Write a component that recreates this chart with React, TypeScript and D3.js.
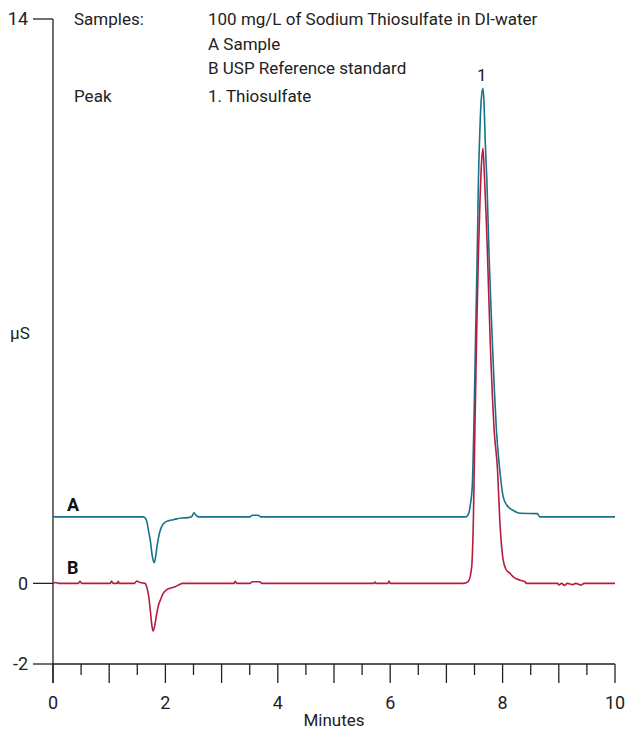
import React from "react";
import * as d3 from "d3";

// chromatogram traces, [minutes, µS]
const traceA: [number, number][] = [
  [0, 1.65], [1.6, 1.65], [1.64, 1.62], [1.67, 1.53], [1.7, 1.3], [1.73, 1.07],
  [1.77, 0.65], [1.8, 0.51], [1.83, 0.7], [1.85, 0.91], [1.9, 1.28], [1.95, 1.45],
  [1.99, 1.51], [2.05, 1.55], [2.11, 1.57], [2.2, 1.6], [2.3, 1.62], [2.4, 1.63],
  [2.47, 1.66], [2.51, 1.75], [2.55, 1.68], [2.59, 1.65], [3.5, 1.65], [3.55, 1.69],
  [3.65, 1.69], [3.7, 1.65], [7.35, 1.65], [7.4, 1.75], [7.42, 1.9], [7.46, 2.4],
  [7.49, 4.0], [7.52, 6.2], [7.55, 8.3], [7.57, 10.0], [7.59, 11.0], [7.62, 12.0],
  [7.65, 12.28], [7.67, 11.9], [7.69, 11.0], [7.72, 10.0], [7.76, 8.1], [7.8, 6.6],
  [7.85, 4.9], [7.89, 3.8], [7.95, 2.81], [8.01, 2.15], [8.07, 1.95], [8.13, 1.86],
  [8.2, 1.8], [8.31, 1.74], [8.62, 1.73], [8.66, 1.65], [10, 1.65],
];

const traceB: [number, number][] = [
  [0, 0], [0.05, 0.02], [0.1, 0], [0.45, 0], [0.48, 0.05], [0.51, 0], [1.02, 0],
  [1.04, 0.06], [1.07, 0], [1.14, 0], [1.16, 0.05], [1.18, 0], [1.45, 0], [1.49, 0.06],
  [1.55, 0.02], [1.64, 0], [1.67, -0.1], [1.7, -0.3], [1.73, -0.65], [1.76, -1.05],
  [1.78, -1.18], [1.81, -1.05], [1.84, -0.8], [1.87, -0.58], [1.92, -0.38], [1.96, -0.25],
  [2.02, -0.16], [2.08, -0.12], [2.18, -0.08], [2.26, -0.02], [2.3, 0], [3.22, 0],
  [3.24, 0.05], [3.27, 0], [3.5, 0], [3.55, 0.04], [3.68, 0.04], [3.71, 0], [5.71, 0],
  [5.73, 0.03], [5.75, 0], [5.96, 0], [5.98, 0.06], [6.0, 0], [7.3, 0], [7.39, 0.05],
  [7.45, 0.41], [7.48, 1.57], [7.51, 4.05], [7.54, 6.3], [7.57, 8.2], [7.6, 9.6],
  [7.62, 10.3], [7.65, 10.79], [7.68, 10.0], [7.71, 9.0], [7.73, 8.2], [7.78, 6.0],
  [7.85, 3.8], [7.91, 2.81], [7.95, 1.57], [8.01, 0.58], [8.06, 0.35], [8.13, 0.25],
  [8.2, 0.15], [8.31, 0.08], [8.4, 0.04], [8.42, 0], [8.98, 0], [9.0, -0.04], [9.05, 0],
  [9.1, -0.05], [9.15, 0], [9.25, -0.03], [9.3, 0], [9.4, -0.04], [9.45, 0], [10, 0],
];

const xTicks = [0, 2, 4, 6, 8, 10];
const yTicks = [14, 0, -2];
const infoRows = [
  { label: "Samples:", text: "100 mg/L of Sodium Thiosulfate in DI-water" },
  { label: "", text: "A Sample" },
  { label: "", text: "B USP Reference standard" },
  { label: "Peak", text: "1. Thiosulfate" },
];

const colorA = "#17728a";
const colorB = "#b71c3d";
const font = "'Liberation Sans Narrow', 'Roboto', sans-serif";

export default function App() {
  const width = 625;
  const height = 731;
  const x = d3.scaleLinear().domain([0, 10]).range([53, 615]);
  const y = d3.scaleLinear().domain([-2, 14]).range([664, 19]);
  const line = d3
    .line<[number, number]>()
    .x((d) => x(d[0]))
    .y((d) => y(d[1]))
    .curve(d3.curveMonotoneX);

  const halfTicks = d3.range(0, 10.01, 0.5);
  const rowY = [19, 44, 68, 96];

  return (
    <svg
      width={width}
      height={height}
      style={{ position: "absolute", left: 0, top: 0, background: "#fff" }}
      fontFamily={font}
    >
      {/* info block */}
      {infoRows.map((r, i) => (
        <g key={i} fontSize={17} fill="#222">
          {r.label && (
            <text x={74} y={rowY[i]} dy="0.35em">
              {r.label}
            </text>
          )}
          <text x={208} y={rowY[i]} dy="0.35em">
            {r.text}
          </text>
        </g>
      ))}

      {/* axes */}
      <g stroke="#222" strokeWidth={1.3} fill="none">
        <line x1={x(0)} x2={x(0)} y1={y(14)} y2={683} />
        <line x1={x(0)} x2={x(10)} y1={y(-2)} y2={y(-2)} />
        {yTicks.map((t) => (
          <line key={t} x1={x(0) - 20} x2={x(0)} y1={y(t)} y2={y(t)} />
        ))}
        {halfTicks.map((t) => (
          <line
            key={t}
            x1={x(t)}
            x2={x(t)}
            y1={y(-2)}
            y2={y(-2) + (Number.isInteger(t) ? 19 : 11)}
          />
        ))}
      </g>
      {yTicks.map((t) => (
        <text key={t} x={28} y={y(t)} dy="0.35em" textAnchor="end" fontSize={18} fill="#222">
          {t}
        </text>
      ))}
      {xTicks.map((t) => (
        <text key={t} x={x(t)} y={703} dy="0.35em" textAnchor="middle" fontSize={18} fill="#222">
          {t}
        </text>
      ))}
      <text x={334} y={720} dy="0.35em" textAnchor="middle" fontSize={17} fill="#222">
        Minutes
      </text>
      <text x={10} y={333} dy="0.35em" fontSize={17} fill="#222">
        µS
      </text>

      {/* traces */}
      <path d={line(traceA) || ""} fill="none" stroke={colorA} strokeWidth={1.6} />
      <path d={line(traceB) || ""} fill="none" stroke={colorB} strokeWidth={1.6} />

      <text x={67} y={505} dy="0.35em" fontSize={18} fontWeight="bold" fill="#111">
        A
      </text>
      <text x={67} y={568} dy="0.35em" fontSize={18} fontWeight="bold" fill="#111">
        B
      </text>
      <text x={x(7.63)} y={75} dy="0.35em" textAnchor="middle" fontSize={17} fill="#222">
        1
      </text>
    </svg>
  );
}
